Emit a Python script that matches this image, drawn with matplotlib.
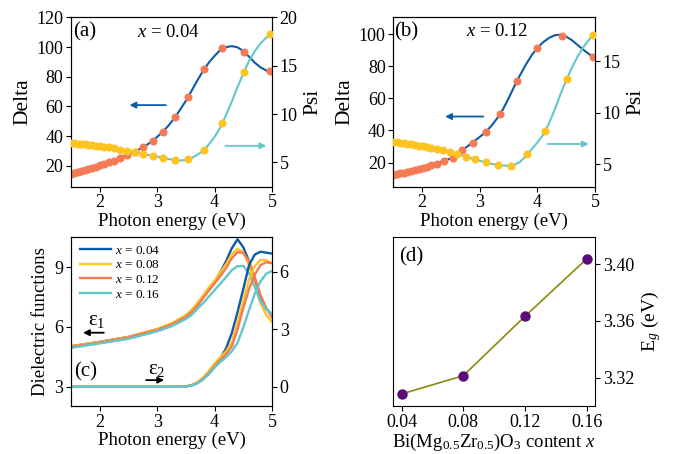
import matplotlib
matplotlib.use("Agg")
import matplotlib.pyplot as plt

plt.rcParams['font.family'] = ['Liberation Serif', 'DejaVu Serif']
plt.rcParams['mathtext.fontset'] = 'custom'
plt.rcParams['mathtext.rm'] = 'Liberation Serif'
plt.rcParams['mathtext.it'] = 'Liberation Serif:italic'
plt.rcParams['axes.linewidth'] = 0.8

BLUE = '#0D5BA6'
ORANGE = '#F47B55'
YELLOW = '#FDC421'
CYAN = '#62C6CB'
PURPLE = '#5B0C78'
OLIVE = '#8A8A0C'

# ---------------- panel (a): x = 0.04 ----------------
E_a = [1.50, 1.56, 1.62, 1.68, 1.74, 1.80, 1.87, 1.94, 2.01, 2.08, 2.16, 2.25,
       2.36, 2.48, 2.61, 2.76, 2.92, 3.10, 3.31, 3.54, 3.82, 4.13, 4.51, 4.96]
delta_a = [14.5, 15.2, 15.9, 16.5, 17.2, 17.9, 18.7, 19.5, 20.4, 21.3, 22.3, 23.4,
           25.1, 27.3, 29.6, 32.7, 37.0, 43.0, 52.6, 66.5, 85.2, 99.1, 96.4, 83.8]
psi_a = [7.03, 6.99, 6.95, 6.91, 6.87, 6.83, 6.78, 6.73, 6.68, 6.62, 6.55, 6.45,
         6.32, 6.18, 6.04, 5.86, 5.69, 5.48, 5.24, 5.41, 6.27, 9.10, 14.37, 18.27]

E_fit = [1.5, 2.0, 2.5, 2.6, 2.7, 2.8, 2.9, 3.0, 3.1, 3.2, 3.3, 3.4, 3.5, 3.6,
         3.7, 3.8, 3.9, 4.0, 4.1, 4.2, 4.3, 4.4, 4.5, 4.6, 4.7, 4.8, 4.9, 5.0]
delta_fit_a = [14.5, 20.3, 27.6, 29.5, 31.4, 33.6, 36.2, 39.5, 43.0, 47.2, 52.2, 57.8,
               63.8, 70.5, 77.5, 84.0, 89.5, 94.0, 98.0, 99.9, 100.6, 99.8, 97.3, 93.5,
               89.5, 86.3, 84.2, 83.0]
psi_fit_a = [7.03, 6.69, 6.18, 6.05, 5.93, 5.82, 5.72, 5.60, 5.48, 5.36, 5.25, 5.20,
             5.26, 5.45, 5.80, 6.20, 6.85, 7.65, 8.60, 9.90, 11.3, 12.8, 14.2, 15.5,
             16.5, 17.3, 17.9, 18.3]

# ---------------- panel (b): x = 0.12 ----------------
E_b_delta = [1.50, 1.56, 1.62, 1.68, 1.74, 1.80, 1.87, 1.94, 2.01, 2.08, 2.16, 2.25,
             2.385, 2.53, 2.70, 2.88, 3.10, 3.35, 3.65, 4.00, 4.43, 4.96]
delta_b = [12.3, 12.8, 13.3, 13.8, 14.3, 14.8, 15.4, 16.0, 16.7, 17.4, 18.3, 19.4,
           21.0, 23.0, 27.9, 32.5, 38.9, 50.4, 71.1, 91.5, 98.8, 85.7]
E_b_psi = [1.50, 1.56, 1.62, 1.68, 1.74, 1.80, 1.87, 1.94, 2.01, 2.08, 2.16, 2.25,
           2.36, 2.48, 2.61, 2.76, 2.92, 3.10, 3.31, 3.54, 3.82, 4.13, 4.51, 4.96]
psi_b = [7.18, 7.13, 7.08, 7.03, 6.98, 6.93, 6.87, 6.80, 6.72, 6.65, 6.57, 6.47,
         6.33, 6.14, 5.98, 5.72, 5.49, 5.16, 4.90, 4.84, 5.98, 8.22, 13.27, 17.6]
delta_fit_b = [12.3, 16.6, 22.6, 24.9, 27.9, 30.5, 33.2, 36.0, 38.9, 42.8, 47.5, 53.0,
               60.0, 67.5, 74.5, 81.0, 86.8, 91.5, 95.0, 97.6, 99.3, 99.7, 98.5, 96.2,
               93.2, 90.2, 87.5, 85.2]
psi_fit_b = [7.18, 6.72, 6.16, 6.02, 5.82, 5.64, 5.50, 5.32, 5.16, 5.02, 4.92, 4.86,
             4.84, 4.92, 5.22, 5.78, 6.45, 7.10, 7.85, 8.95, 10.3, 11.8, 13.15, 14.4,
             15.5, 16.4, 17.15, 17.8]

# ---------------- panel (c): dielectric functions ----------------
E_c = [1.5, 2.0, 2.5, 3.0, 3.25, 3.5, 3.6, 3.7, 3.8, 3.9, 4.0, 4.1, 4.2, 4.3,
       4.4, 4.5, 4.6, 4.7, 4.8, 4.9, 5.0]
contents = ['0.04', '0.08', '0.12', '0.16']
eps1 = {
    '0.04': [5.03, 5.25, 5.50, 5.88, 6.15, 6.55, 6.80, 7.15, 7.52, 7.90, 8.25, 8.75,
             9.30, 9.95, 10.40, 10.00, 9.30, 8.30, 7.40, 6.90, 6.60],
    '0.08': [5.03, 5.25, 5.50, 5.90, 6.18, 6.60, 6.85, 7.20, 7.58, 7.98, 8.32, 8.75,
             9.15, 9.65, 9.92, 9.75, 9.10, 8.10, 7.20, 6.60, 6.25],
    '0.12': [5.00, 5.22, 5.47, 5.85, 6.12, 6.50, 6.75, 7.05, 7.45, 7.82, 8.18, 8.55,
             8.95, 9.45, 9.75, 9.72, 9.30, 8.50, 7.60, 6.95, 6.48],
    '0.16': [4.95, 5.17, 5.40, 5.78, 6.03, 6.40, 6.60, 6.90, 7.20, 7.52, 7.85, 8.17,
             8.50, 8.85, 9.05, 9.06, 8.70, 8.00, 7.30, 6.90, 6.65],
}
eps2 = {
    '0.04': [0, 0, 0, 0, 0, 0.02, 0.08, 0.20, 0.42, 0.72, 1.10, 1.50, 2.00, 2.80,
             3.90, 5.10, 6.35, 6.90, 7.05, 7.00, 6.95],
    '0.08': [0, 0, 0, 0, 0, 0.03, 0.10, 0.24, 0.48, 0.82, 1.22, 1.55, 1.85, 2.30,
             3.35, 4.50, 5.60, 6.30, 6.62, 6.60, 6.45],
    '0.12': [0, 0, 0, 0, 0, 0.02, 0.08, 0.20, 0.42, 0.72, 1.08, 1.40, 1.70, 2.10,
             3.00, 4.10, 5.10, 5.85, 6.35, 6.50, 6.45],
    '0.16': [0, 0, 0, 0, 0, 0.02, 0.07, 0.18, 0.38, 0.66, 1.00, 1.30, 1.55, 1.85,
             2.30, 3.10, 4.00, 4.85, 5.50, 5.90, 6.05],
}
c_colors = {'0.04': BLUE, '0.08': YELLOW, '0.12': ORANGE, '0.16': CYAN}

# ---------------- panel (d): band gap ----------------
x_content = [0.04, 0.08, 0.12, 0.16]
Eg = [3.3085, 3.3214, 3.3633, 3.4038]

fig = plt.figure(figsize=(6.8, 4.54), dpi=100)

TICK = 13
XL = 13.5
MS = 5.8


def style(ax):
    ax.tick_params(direction='out', length=3.5, width=0.8, labelsize=TICK, pad=2)


def ab_panel(rect, E_d, dvals, E_p, pvals, dfit, pfit, ylim_l, ylim_r, lticks, rticks,
             letter, ltxt, lpos, tpos, arr_b, arr_c):
    ax = fig.add_axes(rect)
    ax.plot(E_fit, dfit, color=BLUE, lw=1.5, zorder=2)
    ax.plot(E_d, dvals, 'o', color=ORANGE, ms=MS, mec='none', zorder=3)
    ax.set_xlim(1.5, 5)
    ax.set_ylim(*ylim_l)
    ax.set_xticks([2, 3, 4, 5])
    ax.set_yticks(lticks)
    ax.set_xlabel('Photon energy (eV)', fontsize=XL, labelpad=1)
    ax.set_ylabel('Delta', fontsize=15.5, labelpad=3)
    style(ax)
    ax.text(lpos[0], lpos[1], letter, fontsize=15, va='center', ha='left')
    ax.text(tpos[0], tpos[1], ltxt, fontsize=13.5, va='center', ha='center')
    ax.annotate('', xy=(arr_b[1], arr_b[2]), xytext=(arr_b[0], arr_b[2]),
                arrowprops=dict(arrowstyle='-|>', color=BLUE, lw=1.3, mutation_scale=9))
    ax.annotate('', xy=(arr_c[1], arr_c[2]), xytext=(arr_c[0], arr_c[2]),
                arrowprops=dict(arrowstyle='-|>', color=CYAN, lw=1.3, mutation_scale=9))
    ax2 = ax.twinx()
    ax2.plot(E_fit, pfit, color=CYAN, lw=1.5, zorder=2)
    ax2.plot(E_p, pvals, 'o', color=YELLOW, ms=MS, mec='none', zorder=3)
    ax2.set_ylim(*ylim_r)
    ax2.set_yticks(rticks)
    ax2.set_ylabel('Psi', fontsize=15.5, labelpad=4)
    style(ax2)
    return ax, ax2


ab_panel([0.1044, 0.5888, 0.2956, 0.3731], E_a, delta_a, E_a, psi_a,
         delta_fit_a, psi_fit_a, (6, 120), (2.5, 20), [20, 40, 60, 80, 100, 120],
         [5, 10, 15, 20], '(a)', '$x$ = 0.04', (1.53, 110), (3.2, 110),
         (3.2, 2.47, 60.9), (4.14, 4.95, 33.5))

ab_panel([0.5784, 0.5888, 0.2966, 0.3731], E_b_delta, delta_b, E_b_psi, psi_b,
         delta_fit_b, psi_fit_b, (5, 110.5), (2.8, 19.3), [20, 40, 60, 80, 100],
         [5, 10, 15], '(b)', '$x$ = 0.12', (1.51, 101.7), (3.3, 101.7),
         (3.11, 2.35, 48.7), (4.13, 4.94, 31.6))

# (c)
axc = fig.add_axes([0.1044, 0.1057, 0.2956, 0.3716])
axc2 = axc.twinx()
for c in contents:
    axc.plot(E_c, eps1[c], color=c_colors[c], lw=1.7, label='$x$ = ' + c)
    axc2.plot(E_c, eps2[c], color=c_colors[c], lw=1.7)
axc.set_xlim(1.5, 5)
axc.set_ylim(2.03, 10.5)
axc2.set_ylim(-1.0, 7.8)
axc.set_xticks([2, 3, 4, 5])
axc.set_yticks([3, 6, 9])
axc2.set_yticks([0, 3, 6])
axc.set_xlabel('Photon energy (eV)', fontsize=XL, labelpad=1)
axc.set_ylabel('Dielectric functions', fontsize=13.5, labelpad=4)
style(axc)
style(axc2)
axc.legend(loc='upper left', bbox_to_anchor=(-0.01, 1.02), frameon=False,
           fontsize=9.5, handlelength=2.4, labelspacing=0.18, handletextpad=0.3,
           borderpad=0.3)
axc.annotate('', xy=(1.66, 5.71), xytext=(2.12, 5.71),
             arrowprops=dict(arrowstyle='-|>', color='black', lw=1.3, mutation_scale=9))
axc.text(1.95, 6.3, 'ε$_1$', fontsize=15, ha='center', va='center')
axc.annotate('', xy=(3.17, 3.33), xytext=(2.76, 3.33),
             arrowprops=dict(arrowstyle='-|>', color='black', lw=1.3, mutation_scale=9))
axc.text(3.0, 3.85, 'ε$_2$', fontsize=15, ha='center', va='center')
axc.text(1.56, 3.75, '(c)', fontsize=15, ha='left', va='center')

# (d)
axd = fig.add_axes([0.5784, 0.1057, 0.2966, 0.3716])
axd.yaxis.tick_right()
axd.yaxis.set_label_position('right')
axd.plot(x_content, Eg, '-', color=OLIVE, lw=1.2, zorder=2)
axd.plot(x_content, Eg, 'o', color=PURPLE, ms=7.5, mec='none', zorder=3)
axd.set_xlim(0.0346, 0.1654)
axd.set_ylim(3.30, 3.419)
axd.set_xticks(x_content)
axd.set_xticklabels(['0.04', '0.08', '0.12', '0.16'])
axd.set_yticks([3.32, 3.36, 3.40])
axd.set_yticklabels(['3.32', '3.36', '3.40'])
axd.set_xlabel(r'Bi(Mg$_{0.5}$Zr$_{0.5}$)O$_3$ content $x$', fontsize=XL, labelpad=1)
axd.set_ylabel(r'E$_g$ (eV)', fontsize=14, labelpad=4)
style(axd)
axd.text(0.0385, 3.4054, '(d)', fontsize=15, ha='left', va='center')

fig.savefig('out.png', dpi=100)
